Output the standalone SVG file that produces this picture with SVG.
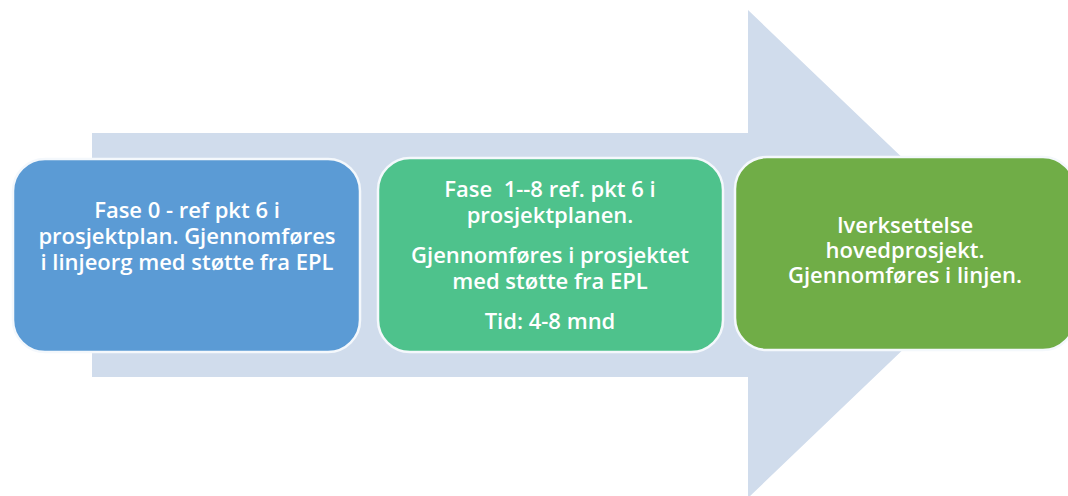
<svg xmlns="http://www.w3.org/2000/svg" width="1068" height="496" viewBox="0 0 1068 496">
<style>
.box{stroke:#f4f8fc;stroke-width:2.5}
.t{font-family:"Open Sans","Liberation Sans",sans-serif;font-size:22px;fill:#ffffff;text-anchor:middle;font-weight:600}
</style>
<rect width="1068" height="496" fill="#ffffff"/>
<g id="connectors">
<path d="M92,133 L748,133 L748,10 L1003,254 L748,498 L748,377 L92,377 Z" fill="#d0dcec"/>
</g>
<g id="node1">
<rect class="box" x="13" y="159" width="347" height="193" rx="32" fill="#5b9bd5"/>
<text class="t" x="187" y="218">Fase 0 - ref pkt 6 i</text>
<text class="t" x="187" y="244">prosjektplan. Gjennomføres</text>
<text class="t" x="187" y="270">i linjeorg med støtte fra EPL</text>
</g>
<g id="node2">
<rect class="box" x="378" y="158" width="345" height="194" rx="32" fill="#4ec28c"/>
<text class="t" x="550" y="197">Fase&#160; 1--8 ref. pkt 6 i</text>
<text class="t" x="550" y="223">prosjektplanen.</text>
<text class="t" x="550" y="263">Gjennomføres i prosjektet</text>
<text class="t" x="550" y="289">med støtte fra EPL</text>
<text class="t" x="550" y="329">Tid: 4-8 mnd</text>
</g>
<g id="node3">
<rect class="box" x="735" y="157" width="340" height="193" rx="32" fill="#70ad47"/>
<text class="t" x="905" y="233">Iverksettelse</text>
<text class="t" x="905" y="258">hovedprosjekt.</text>
<text class="t" x="905" y="283">Gjennomføres i linjen.</text>
</g>
</svg>
